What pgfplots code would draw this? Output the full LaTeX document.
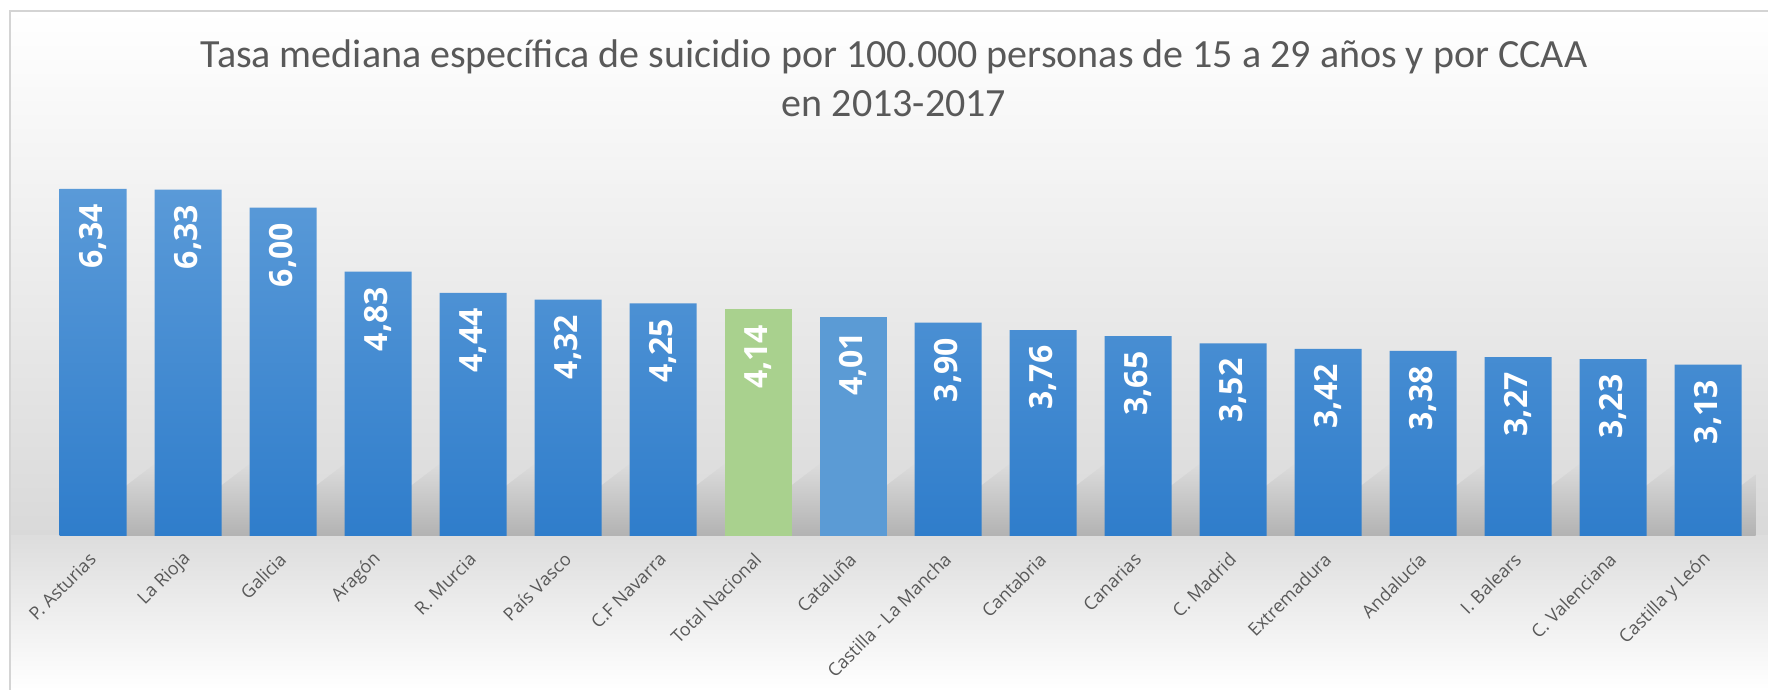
\documentclass[border=0pt]{standalone}
\usepackage{pgfplots}
\pgfplotsset{compat=1.18}
\usepackage{pgfplotstable}
\usepackage{fontspec}
\setmainfont{Open Sans}
\newfontfamily\titlefont{Carlito}
\definecolor{bartop}{HTML}{5A9AD8}
\definecolor{barbot}{HTML}{2F7DCB}
\definecolor{catblue}{HTML}{5B9BD5}
\definecolor{natgreen}{HTML}{A9D18E}
\definecolor{labelgray}{HTML}{595959}
\definecolor{titlegray}{HTML}{595959}
\definecolor{bgmid}{HTML}{D9D9D9}
\definecolor{bgshad}{HTML}{DCDCDC}
\definecolor{bgline}{HTML}{D4D4D4}
\definecolor{shadowm}{HTML}{9C9C9C}
\definecolor{shadowb}{HTML}{B2B2B2}

\pgfplotstableread{
x y lab
0 6.34 6,34
1 6.33 6,33
2 6.00 6,00
3 4.83 4,83
4 4.44 4,44
5 4.32 4,32
6 4.25 4,25
9 3.90 3,90
10 3.76 3,76
11 3.65 3,65
12 3.52 3,52
13 3.42 3,42
14 3.38 3,38
15 3.27 3,27
16 3.23 3,23
17 3.13 3,13
}\bluetab
\pgfplotstableread{
x y lab
7 4.14 4,14
}\greentab
\pgfplotstableread{
x y lab
8 4.01 4,01
}\cattab

\begin{document}
\begin{tikzpicture}
\useasboundingbox (0,0) rectangle (884pt,345pt);
\fill[white] (0,0) rectangle (884pt,345pt);
\shade[top color=white, bottom color=bgmid] (4.75pt,77pt) rectangle (884pt,339.5pt);
\shade[top color=bgmid!90!white, bottom color=white] (4.75pt,0pt) rectangle (884pt,77pt);
\draw[bgline, line width=1pt] (4.75pt,0pt) -- (4.75pt,339.5pt) -- (884pt,339.5pt);

\node[anchor=base, text=titlegray, font=\titlefont\fontsize{20}{24}\selectfont] at (447pt,311pt) {Tasa mediana específica de suicidio por 100.000 personas de 15 a 29 años y por CCAA};
\node[anchor=base, text=titlegray, font=\titlefont\fontsize{20}{24}\selectfont] at (447pt,286.5pt) {en 2013-2017};

\begin{axis}[
  at={(22.75pt,77pt)}, anchor=south west,
  scale only axis, width=855pt, height=198pt,
  xmin=-0.5, xmax=17.5, ymin=0, ymax=7.235,
  axis line style={draw=none},
  ytick=\empty,
  xtick={0,...,17},
  xticklabels={P. Asturias, La Rioja, Galicia, Aragón, R. Murcia, País Vasco, C.F Navarra, Total Nacional, Cataluña, Castilla - La Mancha, Cantabria, Canarias, C. Madrid, Extremadura, Andalucía, I. Balears, C. Valenciana, Castilla y León},
  major tick length=0pt,
  xticklabel style={rotate=45, anchor=east, font=\fontsize{9}{10}\selectfont, text=labelgray, inner sep=0pt},
  xticklabel shift=10pt,
  shad/.style={draw=none, top color=bgshad, middle color=shadowm, bottom color=shadowb},
  valstyle/.style={
    nodes near coords,
    point meta=explicit symbolic,
    every node near coord/.style={rotate=90, anchor=east, inner xsep=7.5pt, inner ysep=0pt, text=white, font=\bfseries\fontsize{16}{18}\selectfont},
  },
]
% soft shadows cast to the right of each bar
\addplot[shad] coordinates {(-0.353,0) (0.653,0) (0.653,1.32)} -- cycle;
\addplot[shad] coordinates {(0.647,0) (1.653,0) (1.653,1.32)} -- cycle;
\addplot[shad] coordinates {(1.647,0) (2.653,0) (2.653,1.32)} -- cycle;
\addplot[shad] coordinates {(2.647,0) (3.653,0) (3.653,1.32)} -- cycle;
\addplot[shad] coordinates {(3.647,0) (4.653,0) (4.653,1.32)} -- cycle;
\addplot[shad] coordinates {(4.647,0) (5.653,0) (5.653,1.32)} -- cycle;
\addplot[shad] coordinates {(5.647,0) (6.653,0) (6.653,1.32)} -- cycle;
\addplot[shad] coordinates {(6.647,0) (7.653,0) (7.653,1.32)} -- cycle;
\addplot[shad] coordinates {(7.647,0) (8.653,0) (8.653,1.32)} -- cycle;
\addplot[shad] coordinates {(8.647,0) (9.653,0) (9.653,1.32)} -- cycle;
\addplot[shad] coordinates {(9.647,0) (10.653,0) (10.653,1.32)} -- cycle;
\addplot[shad] coordinates {(10.647,0) (11.653,0) (11.653,1.32)} -- cycle;
\addplot[shad] coordinates {(11.647,0) (12.653,0) (12.653,1.32)} -- cycle;
\addplot[shad] coordinates {(12.647,0) (13.653,0) (13.653,1.32)} -- cycle;
\addplot[shad] coordinates {(13.647,0) (14.653,0) (14.653,1.32)} -- cycle;
\addplot[shad] coordinates {(14.647,0) (15.653,0) (15.653,1.32)} -- cycle;
\addplot[shad] coordinates {(15.647,0) (16.653,0) (16.653,1.32)} -- cycle;
\addplot[shad] coordinates {(16.647,0) (17.653,0) (17.653,1.32)} -- cycle;

\addplot[ybar, draw=none, bar width=33.5pt, bar shift=0pt, top color=bartop, bottom color=barbot, valstyle] table[x=x, y=y, meta=lab] {\bluetab};
\addplot[ybar, draw=none, bar width=33.5pt, bar shift=0pt, fill=natgreen, valstyle] table[x=x, y=y, meta=lab] {\greentab};
\addplot[ybar, draw=none, bar width=33.5pt, bar shift=0pt, fill=catblue, valstyle] table[x=x, y=y, meta=lab] {\cattab};
\end{axis}
\end{tikzpicture}
\end{document}
